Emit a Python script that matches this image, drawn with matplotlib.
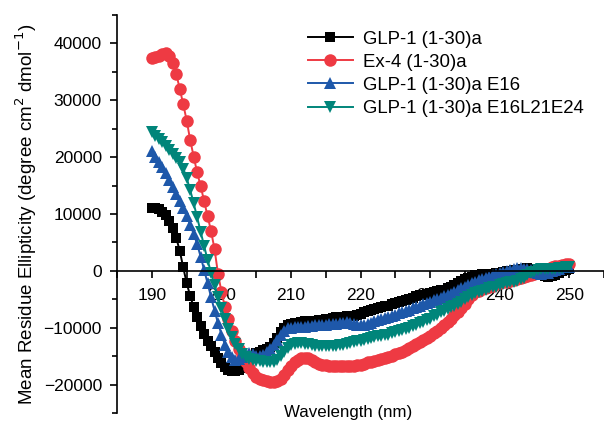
import numpy as np
import matplotlib
matplotlib.use("Agg")
from matplotlib import pyplot as plt
from matplotlib.ticker import MultipleLocator

plt.rcParams['font.family'] = ['Liberation Sans', 'DejaVu Sans']

# wavelength grid, 0.5 nm steps from 190 to 250 nm
wavelength = np.arange(190, 250.5, 0.5)

glp1 = [11000, 11100, 10900, 10400, 9800, 8800, 7500, 5800, 3500, 600,
        -2200, -4400, -6400, -8100, -9700, -11100, -12300, -13300, -14300, -15300,
        -16200, -16900, -17400, -17700, -17600, -17400, -17000, -16300, -15600, -15000,
        -14500, -14200, -14000, -13800, -13400, -12700, -11800, -10800, -10000, -9600,
        -9300, -9200, -9100, -9000, -8900, -8900, -8900, -8800, -8700, -8600,
        -8500, -8400, -8300, -8200, -8200, -8100, -8000, -7900, -7900, -7800,
        -7600, -7300, -7100, -6900, -6700, -6500, -6400, -6200, -6100, -5900,
        -5700, -5500, -5300, -5100, -4900, -4700, -4500, -4300, -4200, -4000,
        -3900, -3700, -3600, -3400, -3300, -3000, -2800, -2500, -2200, -1800,
        -1400, -1200, -1000, -800, -700, -600, -600, -500, -500, -400,
        -300, -200, -100, 0, 100, 200, 300, 400, 500, 400,
        200, -200, -600, -900, -1000, -900, -700, -400, -100, 200,
        400]

ex4 = [37500, 37600, 37800, 38100, 38300, 37800, 36600, 34600, 32000, 29300,
       26400, 23000, 20100, 17300, 14900, 12300, 9600, 7000, 3800, -500,
       -3700, -6400, -8500, -10500, -12300, -13700, -15000, -16000, -17000, -18000,
       -18600, -19000, -19200, -19400, -19500, -19600, -19400, -19000, -18300, -17500,
       -16700, -16000, -15600, -15400, -15300, -15400, -15700, -16000, -16300, -16500,
       -16600, -16700, -16800, -16800, -16800, -16800, -16800, -16800, -16700, -16600,
       -16500, -16300, -16100, -16000, -15800, -15600, -15500, -15400, -15200, -15000,
       -14700, -14500, -14200, -13900, -13600, -13200, -12900, -12500, -12200, -11800,
       -11400, -11000, -10500, -10000, -9500, -9000, -8400, -7800, -7200, -6500,
       -5800, -5000, -4300, -3800, -3500, -3200, -3000, -2800, -2600, -2400,
       -2200, -2000, -1900, -1700, -1600, -1400, -1200, -1100, -900, -700,
       -500, -300, 0, 200, 400, 600, 800, 900, 1100, 1200,
       1200]

glp1_e16 = [21000, 20000, 19100, 18200, 17200, 16000, 14800, 13600, 12300, 11000,
            9600, 8100, 6500, 4700, 2500, 200, -2200, -4600, -7000, -9200,
            -11200, -13000, -14300, -15200, -15600, -15500, -15200, -14800, -14500, -14600,
            -14900, -15000, -14800, -14300, -13700, -13000, -12200, -11300, -10500, -10100,
            -10000, -9900, -9900, -9800, -9800, -9700, -9700, -9600, -9600, -9500,
            -9500, -9400, -9400, -9300, -9200, -9100, -9000, -9100, -9300, -9500,
            -9600, -9500, -9300, -9100, -8900, -8700, -8500, -8300, -8100, -7900,
            -7700, -7500, -7300, -7100, -6900, -6600, -6400, -6100, -5900, -5700,
            -5500, -5200, -5000, -4700, -4500, -4200, -4000, -3700, -3400, -3100,
            -2800, -2500, -2200, -1900, -1600, -1400, -1200, -1000, -800, -600,
            -400, -200, 0, 200, 400, 500, 500, 400, 300, 100,
            -200, -400, -500, -400, -300, 0, 200, 400, 600, 700,
            700]

glp1_e16l21e24 = [24500, 23800, 23200, 22600, 22000, 21300, 20600, 19900, 19200, 18000,
                  16300, 14200, 11900, 9400, 6900, 4400, 1900, -300, -2500, -4600,
                  -6600, -8500, -10200, -11600, -12800, -13800, -14600, -15200, -15500, -15700,
                  -15800, -15900, -16000, -16100, -16100, -16000, -15600, -15000, -14300, -13600,
                  -13100, -12800, -12700, -12700, -12800, -12900, -13100, -13200, -13300, -13300,
                  -13300, -13300, -13300, -13200, -13100, -13000, -12900, -12700, -12600, -12400,
                  -12300, -12100, -11900, -11800, -11600, -11500, -11400, -11300, -11200, -11000,
                  -10800, -10600, -10400, -10200, -10000, -9700, -9500, -9200, -9000, -8700,
                  -8400, -8000, -7700, -7300, -7000, -6700, -6400, -6100, -5800, -5400,
                  -5000, -4600, -4200, -3900, -3700, -3500, -3300, -3100, -2900, -2800,
                  -2500, -2400, -2200, -2000, -1900, -1700, -1500, -1200, -700, -300,
                  -200, 100, 300, 400, 400, 400, 400, 500, 500, 600,
                  600]

labels = ['GLP-1 (1-30)a', 'Ex-4 (1-30)a', 'GLP-1 (1-30)a E16', 'GLP-1 (1-30)a E16L21E24']
colors = ['black', '#ee3a43', '#1e58aa', '#00857a']
markers = ['s', 'o', '^', 'v']
sizes = [7.5, 9, 9, 9]

fig = plt.figure(figsize=(6.04, 4.21), dpi=100)
ax = fig.add_axes([0.194, 0.019, 0.806, 0.9454])

for ys, lab, c, m, ms in zip([glp1, ex4, glp1_e16, glp1_e16l21e24], labels, colors, markers, sizes):
    ax.plot(wavelength, ys, color=c, marker=m, markersize=ms, linewidth=1.4,
            markeredgewidth=0, label=lab)

ax.set_xlim(185, 255)
ax.set_ylim(-25000, 45000)
ax.spines['bottom'].set_position(('data', 0))
ax.spines['top'].set_visible(False)
ax.spines['right'].set_visible(False)
ax.spines['left'].set_linewidth(1.2)
ax.spines['bottom'].set_linewidth(1.2)

ax.xaxis.set_major_locator(MultipleLocator(10))
ax.xaxis.set_minor_locator(MultipleLocator(5))
ax.yaxis.set_major_locator(MultipleLocator(10000))
ax.yaxis.set_minor_locator(MultipleLocator(5000))
ax.set_xticks([190, 200, 210, 220, 230, 240, 250])
ax.tick_params(axis='x', which='major', direction='out', length=5, width=1.2, pad=7, labelsize=12.5)
ax.tick_params(axis='x', which='minor', direction='out', length=5, width=1.2)
ax.tick_params(axis='y', which='major', direction='out', length=5, width=1.2, pad=6, labelsize=12.5)
ax.tick_params(axis='y', which='minor', direction='out', length=3.5, width=1.2)

ax.set_ylabel('Mean Residue Ellipticity (degree cm$^2$ dmol$^{-1}$)', fontsize=13.5)
ax.yaxis.set_label_coords(-0.16, 0.5)
fig.text(0.576, 0.003, 'Wavelength (nm)', ha='center', va='bottom', fontsize=12.2)

ax.legend(loc='upper left', bbox_to_anchor=(0.497, 0.945), bbox_transform=fig.transFigure,
          frameon=False, fontsize=13.4, handlelength=2.42, handletextpad=0.54,
          labelspacing=0.33, borderaxespad=0)

fig.savefig('out.png', dpi=100)
